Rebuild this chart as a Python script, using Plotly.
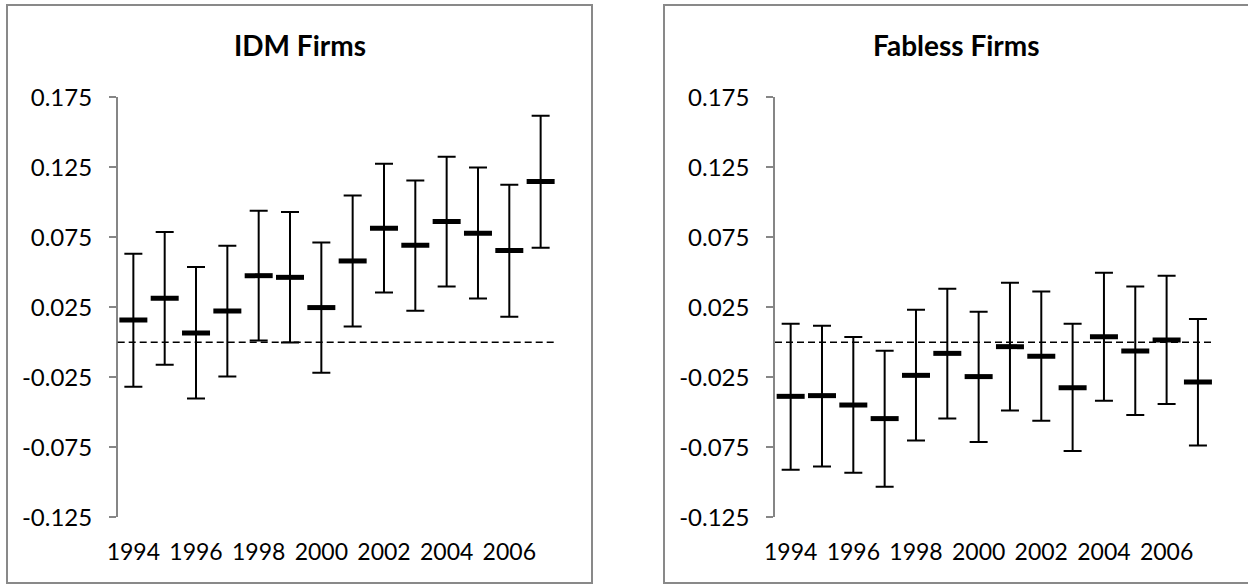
import plotly.graph_objects as go

years = [str(y) for y in range(1994, 2008)]
tick_years = ["1994", "1996", "1998", "2000", "2002", "2004", "2006"]

idm_mean = [0.016, 0.0314, 0.0067, 0.0224, 0.0476, 0.0464, 0.0248, 0.0581, 0.0814, 0.0693, 0.0862, 0.0779, 0.0655, 0.1148]
idm_upper = [0.0633, 0.0788, 0.0538, 0.069, 0.094, 0.0931, 0.0712, 0.1048, 0.1276, 0.1155, 0.1326, 0.1248, 0.1126, 0.1619]
idm_lower = [-0.0317, -0.016, -0.0402, -0.0245, 0.0012, -0.0002, -0.0217, 0.0112, 0.0355, 0.0226, 0.0398, 0.0312, 0.0183, 0.0676]

fab_mean = [-0.0386, -0.0381, -0.0448, -0.0545, -0.0236, -0.0079, -0.0245, -0.0031, -0.010, -0.0324, 0.004, -0.0062, 0.0017, -0.0283]
fab_upper = [0.0133, 0.0119, 0.0038, -0.006, 0.0233, 0.0383, 0.0219, 0.0426, 0.0362, 0.0133, 0.0497, 0.0398, 0.0476, 0.0167]
fab_lower = [-0.091, -0.0888, -0.0931, -0.1031, -0.0702, -0.0545, -0.0712, -0.0488, -0.056, -0.0776, -0.0417, -0.0519, -0.044, -0.0738]

titles = ["IDM Firms", "Fabless Firms"]
y_ticks = [0.175, 0.125, 0.075, 0.025, -0.025, -0.075, -0.125]
y_tick_text = ["0.175", "0.125", "0.075", "0.025", "-0.025", "-0.075", "-0.125"]

W, H = 1248, 585
FONT = "Lato"

fig = go.Figure()

panels = [
    (idm_mean, idm_upper, idm_lower, "x", "y"),
    (fab_mean, fab_upper, fab_lower, "x2", "y2"),
]
for mean, up, lo, xa, ya in panels:
    fig.add_trace(go.Scatter(
        x=years, y=mean, xaxis=xa, yaxis=ya, mode="markers",
        marker=dict(symbol="line-ew", size=20, color="black",
                    line=dict(color="black", width=5)),
        error_y=dict(type="data", symmetric=False,
                     array=[u - m for u, m in zip(up, mean)],
                     arrayminus=[m - l for m, l in zip(mean, lo)],
                     thickness=2, width=9, color="black"),
        showlegend=False, hoverinfo="skip"))

# plot-area positions (pixels)
left_px = [(117.7, 556.3), (775.0, 1213.6)]
ybot = (585 - 517.3) / H
ytop = (585 - 97.3) / H

axis_common_y = dict(range=[-0.125, 0.175], tickvals=y_ticks, ticktext=y_tick_text,
                     showgrid=False, zeroline=False, showline=True, automargin=False,
                     linecolor="#868686", linewidth=1.5, ticks="outside",
                     ticklen=7, tickcolor="#868686", tickwidth=1.5,
                     tickfont=dict(family=FONT, size=24, color="black"),
                     ticklabelstandoff=12,
                     domain=[ybot, ytop])
axis_common_x = dict(type="category", categoryorder="array", categoryarray=years,
                     range=[-0.5, 13.5], tickvals=tick_years, ticktext=tick_years,
                     showgrid=False, zeroline=False, showline=False, ticks="",
                     automargin=False,
                     tickfont=dict(family=FONT, size=23, color="black"),
                     ticklabelstandoff=19)

fig.update_layout(
    width=W, height=H, margin=dict(l=0, r=0, t=0, b=0, pad=0),
    autosize=False,
    paper_bgcolor="white", plot_bgcolor="white",
    xaxis=dict(axis_common_x, domain=[left_px[0][0] / W, left_px[0][1] / W], anchor="y"),
    yaxis=dict(axis_common_y, anchor="x"),
    xaxis2=dict(axis_common_x, domain=[left_px[1][0] / W, left_px[1][1] / W], anchor="y2"),
    yaxis2=dict(axis_common_y, anchor="x2"),
)

# panel borders, titles, zero lines
panel_px = [(7, 592), (664, 1249)]
for i, (x0, x1) in enumerate(panel_px):
    fig.add_shape(type="rect", xref="paper", yref="paper",
                  x0=x0 / W, x1=x1 / W, y0=(585 - 583) / H, y1=(585 - 5) / H,
                  line=dict(color="#898989", width=2), fillcolor="rgba(0,0,0,0)")
    fig.add_annotation(text="<b>" + titles[i] + "</b>", xref="paper", yref="paper",
                       x=(x0 + x1) / 2 / W, y=(585 - 45) / H, showarrow=False,
                       xanchor="center", yanchor="middle",
                       font=dict(family=FONT, size=28, color="black"))
    sfx = "" if i == 0 else "2"
    fig.add_shape(type="line", xref="x" + sfx + " domain", yref="y" + sfx,
                  x0=0, x1=1, y0=0, y1=0,
                  line=dict(color="black", width=1.5, dash="7px,4px"))

fig.write_html("out.html", config={"displayModeBar": False},
               post_script="document.body.style.margin='0';document.body.style.overflow='hidden';")
